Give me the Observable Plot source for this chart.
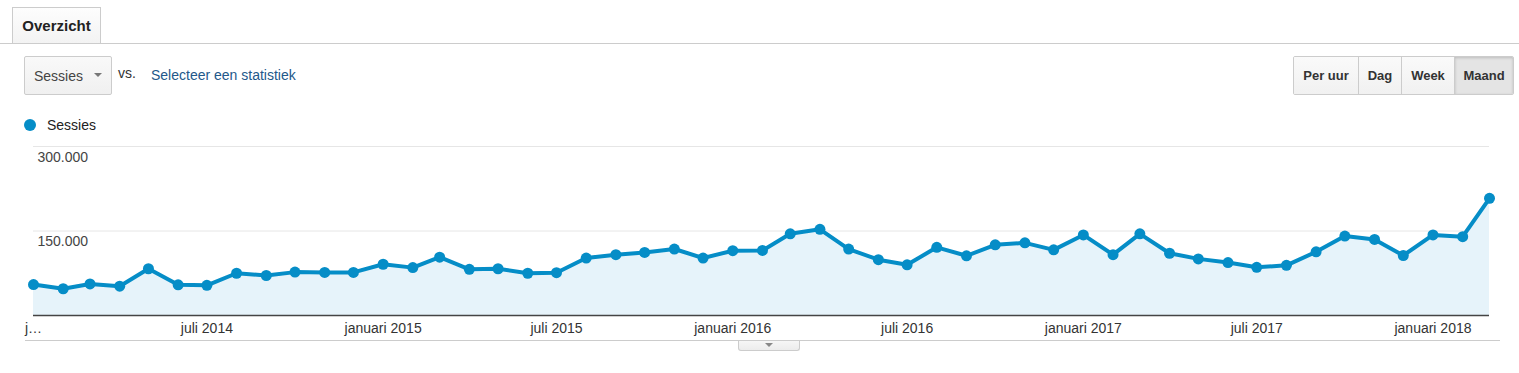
<!DOCTYPE html>
<html>
<head>
<meta charset="utf-8">
<script src="https://cdn.jsdelivr.net/npm/d3@7"></script>
<script src="https://cdn.jsdelivr.net/npm/@observablehq/plot@0.6"></script>
<style>
  html, body { margin: 0; padding: 0; background: #fff; }
  body { width: 1519px; height: 373px; position: relative; overflow: hidden;
         font-family: Arial, "Liberation Sans", sans-serif; }
  .abs { position: absolute; }
  #tab { left: 12px; top: 7px; width: 89px; height: 36px; border: 1px solid #ccc; border-bottom: none;
         background: linear-gradient(#fdfdfd, #f3f3f3); box-sizing: border-box;
         font-weight: bold; font-size: 15px; color: #222; text-align: center; line-height: 36px; z-index: 2; }
  #topline { left: 0; top: 43px; width: 1519px; height: 1px; background: #ccc; }
  #dropdown { left: 24px; top: 56px; width: 88px; height: 39px; border: 1px solid #ccc; border-radius: 2px;
              background: linear-gradient(#f9f9f9, #f0f0f0); box-sizing: border-box; }
  #dropdown span { position: absolute; left: 9px; top: 11px; font-size: 14px; color: #444; }
  #dropdown i { position: absolute; left: 69px; top: 16px; width: 0; height: 0;
                border-left: 4px solid transparent; border-right: 4px solid transparent; border-top: 4px solid #777; }
  #vs { left: 118px; top: 65px; font-size: 14px; color: #333; }
  #sel { left: 151px; top: 67px; font-size: 14px; color: #23588a; }
  #btns { left: 1293px; top: 56px; height: 39px; display: flex; border: 1px solid #ccc; border-radius: 2px;
          box-sizing: border-box; overflow: hidden; }
  #btns div { height: 37px; line-height: 37px; font-size: 13px; font-weight: bold; color: #333; text-align: center;
              background: linear-gradient(#fafafa, #f1f1f1); border-left: 1px solid #ccc; box-sizing: border-box; }
  #btns div:first-child { border-left: none; }
  #btns div.active { background: #e4e4e4; box-shadow: inset 0 1px 3px rgba(0,0,0,0.18); }
  #legend { left: 24px; top: 117px; font-size: 14px; color: #222; }
  #legend b { position: absolute; left: 0; top: 2px; width: 12px; height: 12px; border-radius: 50%; background: #058dc7; }
  #legend span { position: absolute; left: 23px; top: 0; white-space: nowrap; }
  #chart { left: 0; top: 136px; }
  #botline { left: 25px; top: 340px; width: 1475px; height: 1px; background: #ccc; }
  #handle { left: 738px; top: 341px; width: 62px; height: 10px; border: 1px solid #ccc; border-top: none;
            border-radius: 0 0 3px 3px; background: linear-gradient(#f6f6f6, #ececec); box-sizing: border-box; }
  #handle i { position: absolute; left: 26px; top: 2px; width: 0; height: 0;
              border-left: 4px solid transparent; border-right: 4px solid transparent; border-top: 4px solid #888; }
</style>
</head>
<body>
<div id="tab" class="abs">Overzicht</div>
<div id="topline" class="abs"></div>
<div id="dropdown" class="abs"><span>Sessies</span><i></i></div>
<div id="vs" class="abs">vs.</div>
<div id="sel" class="abs">Selecteer een statistiek</div>
<div id="btns" class="abs">
  <div style="width:64px">Per uur</div>
  <div style="width:43px">Dag</div>
  <div style="width:53px">Week</div>
  <div class="active" style="width:59px">Maand</div>
</div>
<div id="legend" class="abs"><b></b><span>Sessies</span></div>
<div id="chart" class="abs"></div>
<div id="botline" class="abs"></div>
<div id="handle" class="abs"><i></i></div>
<script>
const months = [
  "2014-01","2014-02","2014-03","2014-04","2014-05","2014-06","2014-07","2014-08","2014-09","2014-10","2014-11","2014-12",
  "2015-01","2015-02","2015-03","2015-04","2015-05","2015-06","2015-07","2015-08","2015-09","2015-10","2015-11","2015-12",
  "2016-01","2016-02","2016-03","2016-04","2016-05","2016-06","2016-07","2016-08","2016-09","2016-10","2016-11","2016-12",
  "2017-01","2017-02","2017-03","2017-04","2017-05","2017-06","2017-07","2017-08","2017-09","2017-10","2017-11","2017-12",
  "2018-01","2018-02","2018-03"
];
const sessies = [
  55000, 47500, 56000, 52000, 83000, 54500, 53500, 75000, 71000, 77000, 76500, 76500,
  91000, 85000, 103500, 82000, 83000, 75000, 76000, 102000, 108000, 112000, 118000, 102000,
  115000, 115500, 145000, 153000, 118000, 99000, 90000, 121000, 106000, 125500, 129000, 116500,
  143000, 108000, 145000, 110500, 100500, 94000, 85500, 89000, 113000, 141000, 135000, 106500,
  143000, 140000, 208000
];
const tickMonths = ["2014-01","2014-07","2015-01","2015-07","2016-01","2016-07","2017-01","2017-07","2018-01"];
const tickLabels = ["j…","juli 2014","januari 2015","juli 2015","januari 2016","juli 2016","januari 2017","juli 2017","januari 2018"];
const yTicks = [150000, 300000];

const parse = d3.utcParse("%Y-%m");
const data = months.map((m, i) => ({date: parse(m), value: sessies[i]}));
const tickDates = tickMonths.map(parse);
const labelOf = new Map(tickDates.map((d, i) => [+d, tickLabels[i]]));
const fmtY = d => d3.format(",")(d).replace(/,/g, ".");

const blue = "#058dc7";
const plot = Plot.plot({
  width: 1519,
  height: 205,
  marginTop: 10,
  marginBottom: 26,
  marginLeft: 33,
  marginRight: 30,
  style: {fontFamily: "Arial, 'Liberation Sans', sans-serif", fontSize: "14px", color: "#444", background: "transparent", overflow: "visible"},
  x: {type: "utc", domain: [data[0].date, data[data.length - 1].date], label: null},
  y: {domain: [0, 300000], label: null},
  marks: [
    Plot.gridY(yTicks, {stroke: "#e6e6e6", strokeOpacity: 1}),
    Plot.areaY(data, {x: "date", y: "value", fill: "#e6f3fa"}),
    Plot.ruleY([0], {stroke: "#444", strokeWidth: 1.6}),
    Plot.lineY(data, {x: "date", y: "value", stroke: blue, strokeWidth: 4, strokeLinejoin: "round"}),
    Plot.dot(data, {x: "date", y: "value", r: 5.5, fill: blue}),
    Plot.axisY(yTicks, {anchor: "left", label: null, tickSize: 0, tickPadding: 0, textAnchor: "start", dx: 4, dy: 11, tickFormat: fmtY, fill: "#444"}),
    Plot.axisX(tickDates, {anchor: "bottom", label: null, tickSize: 0, tickPadding: 8, tickFormat: d => labelOf.get(+d), fill: "#333"})
  ]
});
document.getElementById("chart").appendChild(plot);
</script>
</body>
</html>
